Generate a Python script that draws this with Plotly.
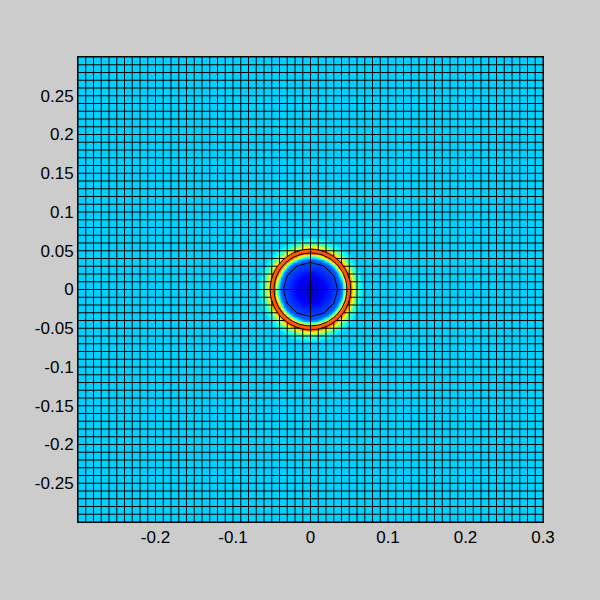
import numpy as np
import plotly.graph_objects as go

# Radial profile of the field: radius -> colour value (0..1 on jet)
profile_r = [0.0, 0.015, 0.030, 0.038, 0.041, 0.044, 0.046, 0.048, 0.050, 0.053, 0.055, 0.058, 0.062, 0.068, 0.30]
profile_v = [0.07, 0.11, 0.18, 0.21, 0.30, 0.55, 0.74, 0.79, 0.80, 0.74, 0.63, 0.50, 0.40, 0.33, 0.33]

# Mesh
mesh_step = 0.01
x_min, x_max = -0.3, 0.3
bubble_r = 0.052          # region where the regular mesh is replaced
inner_ring_r = 0.035      # inner polygonal mesh line
ring_lines_r = [0.047, 0.052]

x_ticks = [-0.2, -0.1, 0, 0.1, 0.2, 0.3]
x_ticktext = ["-0.2", "-0.1", "0", "0.1", "0.2", "0.3"]
y_ticks = [-0.25, -0.2, -0.15, -0.1, -0.05, 0, 0.05, 0.1, 0.15, 0.2, 0.25]
y_ticktext = ["-0.25", "-0.2", "-0.15", "-0.1", "-0.05", "0", "0.05", "0.1", "0.15", "0.2", "0.25"]

jet = [[0.0, "rgb(0,0,128)"], [0.125, "rgb(0,0,255)"], [0.375, "rgb(0,255,255)"],
       [0.625, "rgb(255,255,0)"], [0.875, "rgb(255,0,0)"], [1.0, "rgb(128,0,0)"]]

# field sampled on a fine grid from the radial profile
fx = np.linspace(x_min, x_max, 301)
FX, FY = np.meshgrid(fx, fx)
R = np.sqrt(FX**2 + FY**2)
Z = np.interp(R, profile_r, profile_v)

fig = go.Figure()
fig.add_trace(go.Heatmap(x=fx, y=fx, z=Z, colorscale=jet, zmin=0, zmax=1,
                         zsmooth="best", showscale=False, hoverinfo="skip"))

# mesh lines
lx, ly = [], []
lines = np.round(np.arange(x_min, x_max + mesh_step / 2, mesh_step), 6)
for c in lines:
    if abs(c) < bubble_r and abs(c) > 1e-9:
        h = np.sqrt(bubble_r**2 - c**2)
        for a, b in [(x_min, -h), (h, x_max)]:
            lx += [c, c, None]; ly += [a, b, None]
            ly += [c, c, None]; lx += [a, b, None]
    else:
        lx += [c, c, None]; ly += [x_min, x_max, None]
        ly += [c, c, None]; lx += [x_min, x_max, None]
# inner polygon and ring circles
th8 = np.linspace(0, 2 * np.pi, 13)
lx += list(inner_ring_r * np.cos(th8)) + [None]
ly += list(inner_ring_r * np.sin(th8)) + [None]
th = np.linspace(0, 2 * np.pi, 73)
for rr in ring_lines_r:
    lx += list(rr * np.cos(th)) + [None]
    ly += list(rr * np.sin(th)) + [None]

fig.add_trace(go.Scatter(x=lx, y=ly, mode="lines", line=dict(color="black", width=1),
                         hoverinfo="skip", showlegend=False))

fig.update_layout(
    width=600, height=600,
    paper_bgcolor="#CCCCCC", plot_bgcolor="#00C8FF",
    margin=dict(l=78, r=57, t=57, b=78),
    font=dict(family="Liberation Sans, Arial, sans-serif", size=17, color="black"),
    showlegend=False,
)
fig.update_xaxes(range=[x_min, x_max], tickvals=x_ticks, ticktext=x_ticktext,
                 showgrid=False, zeroline=False, showline=True, linecolor="black",
                 mirror=True, ticks="", ticklen=0)
fig.update_yaxes(range=[x_min, x_max], tickvals=y_ticks, ticktext=y_ticktext,
                 showgrid=False, zeroline=False, showline=True, linecolor="black",
                 mirror=True, ticks="", ticklen=0)

fig.write_html("out.html", config={"displayModeBar": False},
               post_script="document.body.style.margin='0';document.body.style.background='#CCCCCC';")
